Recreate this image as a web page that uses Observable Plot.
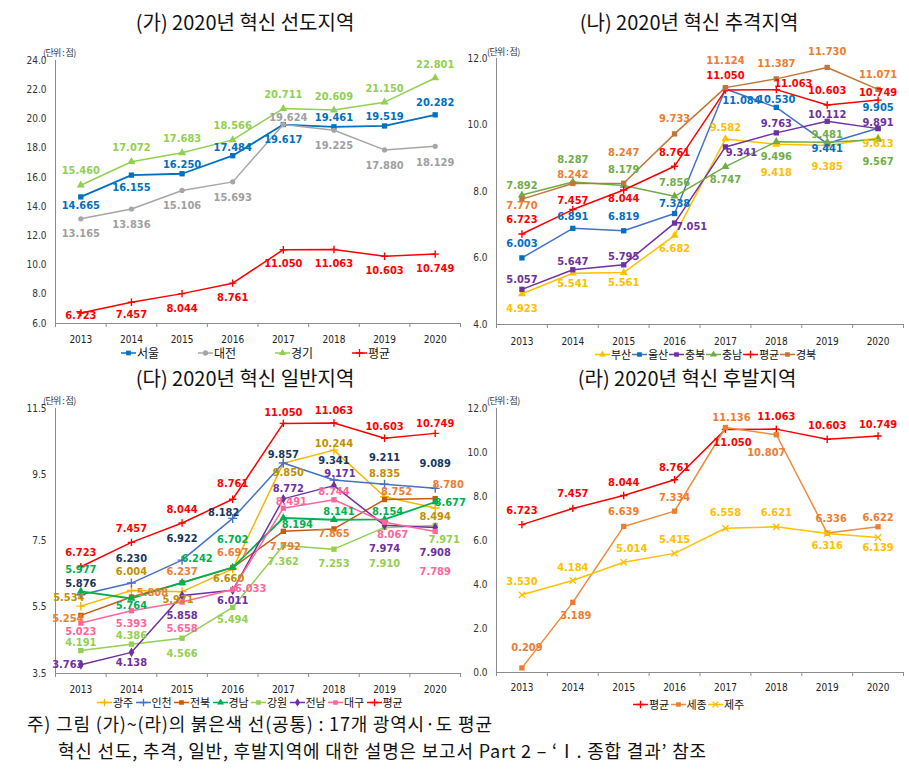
<!DOCTYPE html>
<html><head><meta charset="utf-8">
<script src="https://cdn.jsdelivr.net/npm/d3@7"></script>
<script src="https://cdn.jsdelivr.net/npm/@observablehq/plot@0.6"></script>
<style>
html,body{margin:0;padding:0;background:#fff;}
body{width:909px;height:770px;position:relative;overflow:hidden;font-family:"Noto Sans CJK KR","Noto Sans",sans-serif;}
.panel{position:absolute;}
.panel svg{overflow:visible;max-width:none;}
.title{position:absolute;font-size:20px;color:#111;white-space:nowrap;transform:translate(-50%,-50%);line-height:1;}
.unit{position:absolute;font-size:9px;color:#333;white-space:nowrap;letter-spacing:-0.6px;transform:translateY(-50%);line-height:1;}
.legend{position:absolute;display:flex;transform:translateY(-50%);line-height:1;}
.legend .item{display:flex;align-items:center;white-space:nowrap;color:#111;}
.note{position:absolute;font-size:18px;letter-spacing:0.8px;white-space:nowrap;color:#111;transform:translateY(-50%);line-height:1;}
</style></head><body>
<script>
// ---------- data ----------
const years = [2013, 2014, 2015, 2016, 2017, 2018, 2019, 2020];
const avgAll = [6.723, 7.457, 8.044, 8.761, 11.050, 11.063, 10.603, 10.749];
// (가) 선도지역
const seoul    = [14.665, 16.155, 16.250, 17.484, 19.617, 19.461, 19.519, 20.282];
const daejeon  = [13.165, 13.836, 15.106, 15.693, 19.624, 19.225, 17.880, 18.129];
const gyeonggi = [15.460, 17.072, 17.683, 18.566, 20.711, 20.609, 21.150, 22.801];
// (나) 추격지역
const busan     = [4.923, 5.541, 5.561, 6.682, 9.582, 9.418, 9.385, 9.613];
const ulsan     = [6.003, 6.891, 6.819, 7.338, 11.084, 10.530, 9.441, 9.905];
const chungbuk  = [5.057, 5.647, 5.795, 7.051, 9.341, 9.763, 10.112, 9.891];
const chungnam  = [7.892, 8.287, 8.179, 7.856, 8.747, 9.496, 9.481, 9.567];
const gyeongbuk = [7.770, 8.242, 8.247, 9.733, 11.124, 11.387, 11.730, 11.071];
// (다) 일반지역
const gwangju   = [5.534, 6.004, 5.971, 6.660, 9.850, 10.244, 8.835, 8.494];
const incheon   = [5.876, 6.230, 6.922, 8.182, 9.857, 9.341, 9.211, 9.089];
const jeonbuk   = [5.254, 5.808, 6.237, 6.697, 7.792, 7.865, 8.752, 8.780];
const gyeongnam = [5.977, 5.764, 6.242, 6.702, 8.194, 8.141, 8.154, 8.677];
const gangwon   = [4.191, 4.386, 4.566, 5.494, 7.362, 7.253, 7.910, 7.971];
const jeonnam   = [3.763, 4.138, 5.858, 6.011, 8.772, 9.171, 7.974, 7.908];
const daegu     = [5.023, 5.393, 5.658, 6.033, 8.491, 8.744, 8.067, 7.789];
// (라) 후발지역
const sejong = [0.209, 3.189, 6.639, 7.334, 11.136, 10.807, 6.336, 6.622];
const jeju   = [3.530, 4.184, 5.014, 5.415, 6.558, 6.621, 6.316, 6.139];
// tick values
const yTicksA = [6, 8, 10, 12, 14, 16, 18, 20, 22, 24];
const yTicksB = [4, 6, 8, 10, 12];
const yTicksC = [3.5, 5.5, 7.5, 9.5, 11.5];
const yTicksD = [0, 2, 4, 6, 8, 10, 12];

// ---------- label placement (px offsets [dx, dy]) ----------
const offA = {
  seoul:    [[0,9],[0,12],[0,-9],[0,-8],[0,15],[0,-9],[0,-10],[0,-12]],
  daejeon:  [[0,15],[0,15],[0,15],[0,16],[5,-7],[0,15],[0,16],[0,16]],
  gyeonggi: [[0,-15],[0,-14],[0,-14],[0,-14],[0,-14],[0,-14],[0,-14],[0,-14]],
  avg:      [[0,3],[0,12],[0,15],[0,14],[0,14],[0,14],[0,14],[0,14]]
};
const offB = {
  busan:     [[0,15],[0,10],[0,10],[0,13],[0,-11],[0,28],[0,21],[0,6]],
  ulsan:     [[0,-14],[0,-12],[0,-14],[0,-10],[16,12],[0,-8],[0,5],[0,-21]],
  chungbuk:  [[0,-10],[0,-8],[0,-8],[17,3],[16,6],[0,-9],[0,-7],[0,-6]],
  chungnam:  [[0,-10],[0,-22],[0,-16],[0,-14],[0,13],[0,15],[0,-8],[0,22]],
  avg:       [[0,-14],[0,-9],[0,8],[0,-14],[0,-15],[17,-6],[0,-14],[0,-8]],
  gyeongbuk: [[0,6],[0,-9],[0,-31],[0,-15],[0,-27],[0,-15],[0,-16],[0,-15]]
};
const offC = {
  gwangju:   [[-12,-9],[0,-19],[-4,8],[-4,10],[5,9],[0,-7],[0,-23],[0,8]],
  incheon:   [[0,-11],[0,-25],[0,-22],[-9,-6],[0,-8],[0,-20],[0,-27],[0,-25]],
  jeonbuk:   [[-13,3],[21,-5],[0,-11],[0,-15],[2,15],[0,5],[12,-8],[13,-14]],
  gyeongnam: [[0,-22],[0,7],[15,-24],[0,-28],[14,6],[5,-8],[3,-8],[15,0]],
  gangwon:   [[0,-8],[0,-9],[0,15],[0,12],[0,16],[0,14],[0,36],[9,14]],
  jeonnam:   [[-13,0],[0,10],[0,20],[0,10],[5,-10],[6,-12],[0,23],[0,25]],
  daegu:     [[0,8],[0,13],[0,26],[18,-1],[8,-7],[0,-8],[8,12],[0,40]],
  avg:       [[0,-14],[0,-14],[0,-14],[0,-16],[0,-11],[0,-13],[0,-12],[0,-10]]
};
const offD = {
  avg:    [[0,-14],[0,-15],[0,-13],[0,-12],[7,13],[0,-13],[0,-14],[0,-12]],
  sejong: [[5,-20],[3,13],[0,-15],[0,-14],[6,-10],[-10,18],[4,-15],[0,-9]],
  jeju:   [[0,-13],[0,-13],[8,-14],[0,-14],[0,-16],[0,-14],[0,12],[0,10]]
};

// ---------- rendering ----------
const AXIS = "#8c8c8c";
const NUMFONT = '"Liberation Sans Narrow","DejaVu Sans Condensed","Arial Narrow","Liberation Sans",sans-serif';
const fmt3 = d3.format(".3f");
const strokeSymbols = new Set(["plus", "times"]);

function dotOptions(s) {
  const o = {x: "year", y: "value", symbol: s.symbol, r: s.r ?? 3};
  if (strokeSymbols.has(s.symbol)) { o.stroke = s.marker; o.fill = "none"; o.strokeWidth = 1.4; }
  else { o.fill = s.marker; o.stroke = "none"; }
  return o;
}

function buildPanel(cfg) {
  const bounds = d3.range(2012.5, 2021, 1);
  const marks = [
    Plot.axisY({ticks: cfg.yTicks, tickSize: 0, tickPadding: 9, tickFormat: d3.format(".1f"), fontSize: 10, color: "#333", label: null}),
    Plot.axisX({ticks: years, tickSize: 0, tickPadding: cfg.xPad, tickFormat: d => String(d), fontSize: 10, color: "#222", label: null}),
    Plot.axisX({ticks: bounds, tickSize: 4, tickFormat: () => "", color: AXIS, label: null}),
    Plot.ruleY([cfg.yDomain[0]], {stroke: AXIS}),
    Plot.ruleX([2012.5], {stroke: AXIS})
  ];
  for (const s of cfg.series) {
    const data = years.map((yr, i) => ({year: yr, value: s.values[i]}));
    marks.push(Plot.line(data, {x: "year", y: "value", stroke: s.line, strokeWidth: s.width ?? 1.5}));
    marks.push(Plot.dot(data, dotOptions(s)));
  }
  for (const s of cfg.series) {
    s.values.forEach((v, i) => {
      const [dx, dy] = s.off[i];
      marks.push(Plot.text([{year: years[i], value: v}], {
        x: "year", y: "value", text: d => fmt3(d.value), dx, dy,
        fill: s.label, fontWeight: "bold", fontSize: 11
      }));
    });
  }
  const svg = Plot.plot({
    width: cfg.width, height: cfg.height,
    marginLeft: cfg.mL, marginRight: cfg.mR, marginTop: cfg.mT, marginBottom: cfg.mB,
    x: {domain: [2012.5, 2020.5], label: null},
    y: {domain: cfg.yDomain, label: null},
    style: {fontFamily: NUMFONT, background: "none", overflow: "visible"},
    marks
  });
  const div = document.createElement("div");
  div.className = "panel";
  div.style.left = cfg.left + "px";
  div.style.top = cfg.top + "px";
  div.style.width = cfg.width + "px";
  div.appendChild(svg);
  document.body.appendChild(div);

  // title
  const t = document.createElement("div");
  t.className = "title"; t.textContent = cfg.title;
  t.style.left = cfg.titleX + "px"; t.style.top = cfg.titleY + "px";
  document.body.appendChild(t);
  // unit
  const u = document.createElement("div");
  u.className = "unit"; u.textContent = "(단위 : 점)";
  u.style.left = cfg.unitX + "px"; u.style.top = cfg.unitY + "px";
  document.body.appendChild(u);
  // legend
  const lg = document.createElement("div");
  lg.className = "legend";
  lg.style.left = cfg.legX + "px"; lg.style.top = cfg.legY + "px";
  lg.style.fontSize = cfg.legFont + "px";
  for (const s of cfg.legendOrder.map(n => cfg.series.find(q => q.name === n))) {
    const it = document.createElement("div");
    it.className = "item"; it.style.width = cfg.legW + "px";
    const sym = {square: d3.symbolSquare, circle: d3.symbolCircle, triangle: d3.symbolTriangle,
                 plus: d3.symbolPlus, times: d3.symbolTimes, diamond: d3.symbolDiamond}[s.symbol];
    const path = d3.symbol(sym, 22)();
    const isStroke = strokeSymbols.has(s.symbol);
    it.innerHTML = `<svg width="15" height="8" style="margin-right:1px"><line x1="0" x2="15" y1="4" y2="4" stroke="${s.line}" stroke-width="1.5"/>` +
      `<path d="${path}" transform="translate(7.5,4)" fill="${isStroke ? "none" : s.marker}" stroke="${isStroke ? s.marker : "none"}" stroke-width="1.3"/></svg>` +
      `<span>${s.name}</span>`;
    lg.appendChild(it);
  }
  document.body.appendChild(lg);
}

const RED = "#FF0000";
const avgSeries = off => ({name: "평균", values: avgAll, line: RED, marker: RED, label: RED, symbol: "plus", r: 2.5, off});

// (가)
buildPanel({
  title: "(가) 2020년 혁신 선도지역", titleX: 245, titleY: 22,
  left: 0, top: 40, width: 465, height: 305, mL: 55, mR: 5, mT: 20, mB: 22, xPad: 12,
  yDomain: [6, 24], yTicks: yTicksA, unitX: 43, unitY: 52,
  legX: 121, legY: 353, legW: 77, legFont: 12,
  legendOrder: ["서울", "대전", "경기", "평균"],
  series: [
    {name: "서울", values: seoul, line: "#0070C0", marker: "#0070C0", label: "#0070C0", symbol: "square", off: offA.seoul, width: 1.8},
    {name: "대전", values: daejeon, line: "#A6A6A6", marker: "#A6A6A6", label: "#A0A0A0", symbol: "circle", r: 2.6, off: offA.daejeon},
    {name: "경기", values: gyeonggi, line: "#92D050", marker: "#92D050", label: "#92D050", symbol: "triangle", off: offA.gyeonggi},
    avgSeries(offA.avg)
  ]
});
// (나)
buildPanel({
  title: "(나) 2020년 혁신 추격지역", titleX: 689, titleY: 22,
  left: 455, top: 40, width: 454, height: 306, mL: 41, mR: 6, mT: 18, mB: 22, xPad: 13,
  yDomain: [4, 12], yTicks: yTicksB, unitX: 487, unitY: 51,
  legX: 595, legY: 354, legW: 37, legFont: 11,
  legendOrder: ["부산", "울산", "충북", "충남", "평균", "경북"],
  series: [
    {name: "부산", values: busan, line: "#FFC000", marker: "#FFC000", label: "#FFC000", symbol: "triangle", off: offB.busan},
    {name: "울산", values: ulsan, line: "#4472C4", marker: "#0070C0", label: "#0070C0", symbol: "square", off: offB.ulsan},
    {name: "충북", values: chungbuk, line: "#7030A0", marker: "#7030A0", label: "#7030A0", symbol: "square", off: offB.chungbuk},
    {name: "충남", values: chungnam, line: "#70AD47", marker: "#70AD47", label: "#70AD47", symbol: "triangle", off: offB.chungnam},
    avgSeries(offB.avg),
    {name: "경북", values: gyeongbuk, line: "#C0763A", marker: "#C0763A", label: "#ED7D31", symbol: "square", off: offB.gyeongbuk}
  ]
});
// (다)
buildPanel({
  title: "(다) 2020년 혁신 일반지역", titleX: 245, titleY: 378,
  left: 0, top: 390, width: 465, height: 305, mL: 55, mR: 5, mT: 18, mB: 22, xPad: 12,
  yDomain: [3.5, 11.5], yTicks: yTicksC, unitX: 43, unitY: 400,
  legX: 97, legY: 702, legW: 38.5, legFont: 11,
  legendOrder: ["광주", "인천", "전북", "경남", "강원", "전남", "대구", "평균"],
  series: [
    {name: "광주", values: gwangju, line: "#F2B800", marker: "#F2B800", label: "#BF9000", symbol: "plus", off: offC.gwangju},
    {name: "인천", values: incheon, line: "#4472C4", marker: "#4472C4", label: "#17375E", symbol: "plus", off: offC.incheon},
    {name: "전북", values: jeonbuk, line: "#C55A11", marker: "#C55A11", label: "#ED7D31", symbol: "square", off: offC.jeonbuk},
    {name: "경남", values: gyeongnam, line: "#00B050", marker: "#00B050", label: "#00B050", symbol: "triangle", off: offC.gyeongnam, width: 1.8},
    {name: "강원", values: gangwon, line: "#92D050", marker: "#92D050", label: "#92D050", symbol: "square", off: offC.gangwon},
    {name: "전남", values: jeonnam, line: "#7030A0", marker: "#7030A0", label: "#7030A0", symbol: "diamond", off: offC.jeonnam},
    {name: "대구", values: daegu, line: "#FF6699", marker: "#FF6699", label: "#FF6699", symbol: "square", off: offC.daegu},
    avgSeries(offC.avg)
  ]
});
// (라)
buildPanel({
  title: "(라) 2020년 혁신 후발지역", titleX: 687, titleY: 378,
  left: 455, top: 390, width: 454, height: 304, mL: 41, mR: 6, mT: 18, mB: 22, xPad: 11,
  yDomain: [0, 12], yTicks: yTicksD, unitX: 487, unitY: 400,
  legX: 633, legY: 704, legW: 37.5, legFont: 11,
  legendOrder: ["평균", "세종", "제주"],
  series: [
    avgSeries(offD.avg),
    {name: "세종", values: sejong, line: "#F08A3C", marker: "#ED7D31", label: "#ED7D31", symbol: "square", off: offD.sejong},
    {name: "제주", values: jeju, line: "#FFC000", marker: "#FFC000", label: "#FFC000", symbol: "times", off: offD.jeju}
  ]
});

// footnote
const n1 = document.createElement("div");
n1.className = "note"; n1.style.left = "27px"; n1.style.top = "723px";
n1.textContent = "주) 그림 (가)~(라)의 붉은색 선(공통) : 17개 광역시·도 평균";
document.body.appendChild(n1);
const n2 = document.createElement("div");
n2.className = "note"; n2.style.left = "58px"; n2.style.top = "750px";
n2.textContent = "혁신 선도, 추격, 일반, 후발지역에 대한 설명은 보고서 Part 2 – ‘Ⅰ. 종합 결과’ 참조";
document.body.appendChild(n2);
</script>
</body></html>
